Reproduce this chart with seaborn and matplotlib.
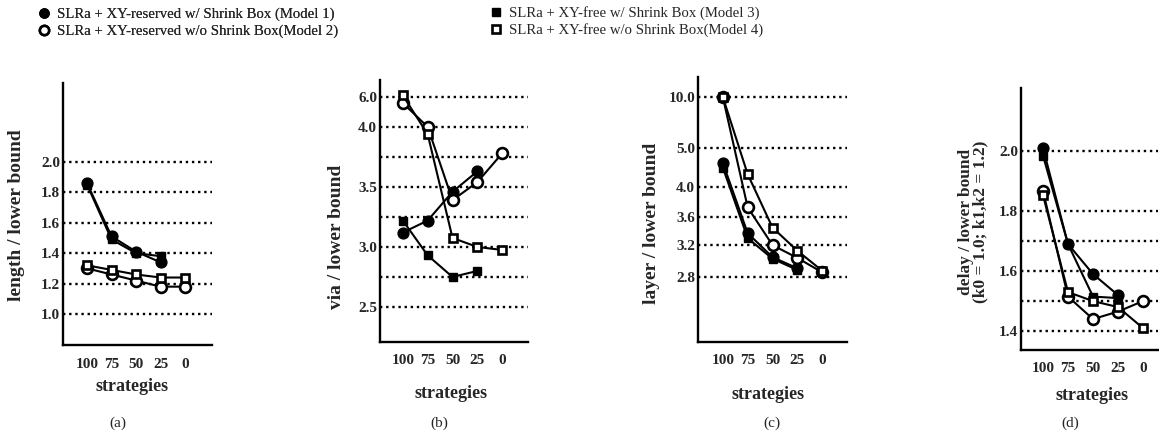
import numpy as np
import pandas as pd
import matplotlib
matplotlib.use("Agg")
import matplotlib.pyplot as plt
from matplotlib.lines import Line2D
import seaborn as sns

# ---------------- data ----------------
strategies = ["100", "75", "50", "25", "0"]
models = ["Model 1", "Model 2", "Model 3", "Model 4"]
nan = np.nan

length_m1 = [1.86, 1.51, 1.41, 1.34, nan]
length_m2 = [1.30, 1.26, 1.22, 1.18, 1.18]
length_m3 = [1.85, 1.49, 1.40, 1.38, nan]
length_m4 = [1.32, 1.29, 1.26, 1.24, 1.24]

via_m1 = [3.12, 3.22, 3.46, 3.63, nan]
via_m2 = [5.6, 4.0, 3.39, 3.54, 3.78]
via_m3 = [3.22, 2.93, 2.75, 2.80, nan]
via_m4 = [6.1, 3.94, 3.075, 3.0, 2.975]

layer_m1 = [4.62, 3.37, 3.05, 2.91, nan]
layer_m2 = [10.0, 3.73, 3.20, 3.04, 2.86]
layer_m3 = [4.50, 3.30, 3.03, 2.89, nan]
layer_m4 = [10.0, 4.33, 3.45, 3.13, 2.88]

delay_m1 = [2.01, 1.69, 1.59, 1.52, nan]
delay_m2 = [1.867, 1.515, 1.44, 1.465, 1.50]
delay_m3 = [1.985, 1.69, 1.515, 1.51, nan]
delay_m4 = [1.853, 1.53, 1.50, 1.48, 1.41]

length_ticks = [1.0, 1.2, 1.4, 1.6, 1.8, 2.0]
length_labels = ["1.0", "1.2", "1.4", "1.6", "1.8", "2.0"]
via_ticks = [2.5, 2.75, 3.0, 3.25, 3.5, 3.75, 4.0, 6.0]
via_labels = ["2.5", "", "3.0", "", "3.5", "", "4.0", "6.0"]
layer_ticks = [2.8, 3.2, 3.6, 4.0, 5.0, 10.0]
layer_labels = ["2.8", "3.2", "3.6", "4.0", "5.0", "10.0"]
delay_ticks = [1.4, 1.5, 1.6, 1.7, 1.8, 2.0]
delay_labels = ["1.4", "", "1.6", "", "1.8", "2.0"]

legend_labels = [
    "SLRa + XY-reserved w/ Shrink Box (Model 1)",
    "SLRa + XY-reserved w/o Shrink Box(Model 2)",
    "SLRa + XY-free w/ Shrink Box (Model 3)",
    "SLRa + XY-free w/o Shrink Box(Model 4)",
]

# ---------------- style ----------------
sns.set_theme(style="white")
plt.rcParams["font.family"] = ["Liberation Serif", "DejaVu Serif"]
plt.rcParams["axes.edgecolor"] = "black"

W, H = 1159, 437
fig = plt.figure(figsize=(W / 100, H / 100), dpi=100)


def px_axes(l, t, r, b):
    return fig.add_axes([l / W, 1 - b / H, (r - l) / W, (b - t) / H])


def piecewise(vk, pk):
    vk = np.asarray(vk, float)
    pk = np.asarray(pk, float)

    def fwd(v):
        v = np.asarray(v, float)
        out = np.interp(v, vk, pk)
        s0 = (pk[1] - pk[0]) / (vk[1] - vk[0])
        s1 = (pk[-1] - pk[-2]) / (vk[-1] - vk[-2])
        out = np.where(v < vk[0], pk[0] + (v - vk[0]) * s0, out)
        out = np.where(v > vk[-1], pk[-1] + (v - vk[-1]) * s1, out)
        return out

    def inv(p):
        p = np.asarray(p, float)
        out = np.interp(p, pk, vk)
        s0 = (vk[1] - vk[0]) / (pk[1] - pk[0])
        s1 = (vk[-1] - vk[-2]) / (pk[-1] - pk[-2])
        out = np.where(p < pk[0], vk[0] + (p - pk[0]) * s0, out)
        out = np.where(p > pk[-1], vk[-1] + (p - pk[-1]) * s1, out)
        return out

    return fwd, inv


styles = {
    "Model 1": dict(marker="o", markersize=7.8, markerfacecolor="black", markeredgecolor="black", markeredgewidth=1),
    "Model 2": dict(marker="o", markersize=7.8, markerfacecolor="white", markeredgecolor="black", markeredgewidth=1.9),
    "Model 3": dict(marker="s", markersize=6.2, markerfacecolor="black", markeredgecolor="black", markeredgewidth=1),
    "Model 4": dict(marker="s", markersize=6.2, markerfacecolor="white", markeredgecolor="black", markeredgewidth=1.9),
}

panels = [
    dict(box=(63, 83, 212, 345), series=[length_m1, length_m2, length_m3, length_m4],
         ticks=length_ticks, labels=length_labels, ylim=(0.797, 2.517), xlim=(-0.98, 5.1),
         ylabel="length / lower bound", ylab_xy=(-0.255, 0.496), xlab_xy=(0.463, -0.125),
         tag="(a)", tag_xy=(118, 423), scale=None),
    dict(box=(380, 80, 528, 342), series=[via_m1, via_m2, via_m3, via_m4],
         ticks=via_ticks, labels=via_labels, ylim=(2.208, 7.13), xlim=(-0.92, 5.04),
         ylabel="via / lower bound", ylab_xy=(-0.236, 0.40), xlab_xy=(0.48, -0.165),
         tag="(b)", tag_xy=(439, 423), scale=([2.5, 4.0, 6.0], [0, 6, 7])),
    dict(box=(698, 77, 847, 342), series=[layer_m1, layer_m2, layer_m3, layer_m4],
         ticks=layer_ticks, labels=layer_labels, ylim=(1.99, 11.96), xlim=(-1.0, 5.0),
         ylabel="layer / lower bound", ylab_xy=(-0.255, 0.449), xlab_xy=(0.47, -0.165),
         tag="(c)", tag_xy=(772, 423), scale=([2.8, 3.2, 3.6, 4.0, 5.0, 10.0], [0, 1.067, 2, 3, 4.3, 6])),
    dict(box=(1021, 88, 1158, 350), series=[delay_m1, delay_m2, delay_m3, delay_m4],
         ticks=delay_ticks, labels=delay_labels, ylim=(1.337, 2.21), xlim=(-0.88, 4.6),
         ylabel="delay / lower bound\n(k0 = 1.0; k1,k2 = 1.2)", ylab_xy=(-0.24, 0.489), xlab_xy=(0.52, -0.14),
         tag="(d)", tag_xy=(1070, 423), scale=None),
]

xpos = np.arange(len(strategies))

for p in panels:
    ax = px_axes(*p["box"])
    if p["scale"] is not None:
        f, i = piecewise(*p["scale"])
        ax.set_yscale("function", functions=(f, i))
    ax.set_yticks(p["ticks"])
    ax.set_yticklabels(p["labels"])
    ax.yaxis.grid(True, linestyle=(0, (1, 1.6)), color="black", linewidth=1.7)
    ax.xaxis.grid(False)
    ax.set_axisbelow(True)
    for m, vals in zip(models, p["series"]):
        df = pd.DataFrame({"x": xpos, "y": vals}).dropna()
        sns.lineplot(data=df, x="x", y="y", ax=ax, color="black", linewidth=1.5,
                     sort=False, legend=False, zorder=3, **styles[m])
    ax.set_xlim(*p["xlim"])
    ax.set_ylim(*p["ylim"])
    ax.set_xticks(xpos)
    ax.set_xticklabels(strategies)
    ax.tick_params(axis="both", length=0, labelsize=11)
    ax.tick_params(axis="x", pad=9)
    ax.tick_params(axis="y", pad=2)
    for lab in ax.get_xticklabels() + ax.get_yticklabels():
        lab.set_fontweight("bold")
    for s in ["top", "right"]:
        ax.spines[s].set_visible(False)
    for s in ["left", "bottom"]:
        ax.spines[s].set_linewidth(1.7)
        ax.spines[s].set_color("black")
    fs = 14 if p["tag"] != "(d)" else 12.5
    ax.set_ylabel(p["ylabel"], fontsize=fs, fontweight="bold", linespacing=0.85)
    ax.yaxis.set_label_coords(*p["ylab_xy"])
    ax.set_xlabel("strategies", fontsize=13, fontweight="bold")
    ax.xaxis.set_label_coords(*p["xlab_xy"])
    fig.text(p["tag_xy"][0] / W, 1 - p["tag_xy"][1] / H, p["tag"], ha="center", va="center", fontsize=11)

# ---------------- legend ----------------
handles = [Line2D([], [], linestyle="none", **styles[m]) for m in models]
for h in handles:
    h.set_markersize(h.get_markersize() * 0.85)
leg_kw = dict(frameon=False, fontsize=10.6, handlelength=0.8, handletextpad=0.5,
              labelspacing=0.2, borderaxespad=0, borderpad=0, loc="upper left")
leg1 = fig.legend(handles[:2], legend_labels[:2], bbox_to_anchor=(38 / W, 1 - 8 / H), **leg_kw)
fig.add_artist(leg1)
fig.legend(handles[2:], legend_labels[2:], bbox_to_anchor=(490 / W, 1 - 6 / H), **leg_kw)

fig.savefig("out.png", dpi=100, facecolor="white")
